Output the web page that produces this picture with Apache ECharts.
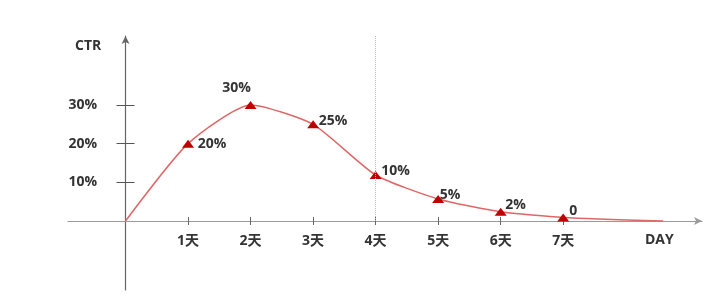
<!DOCTYPE html>
<html><head><meta charset="utf-8">
<script src="https://cdn.jsdelivr.net/npm/echarts@6/dist/echarts.min.js"></script>
<style>html,body{margin:0;padding:0;background:#fff}#c{width:706px;height:297px}</style>
</head><body><div id="c"></div>
<script>
// data
var dayValues = [0, 1, 2, 3, 4, 5, 6, 7, 8.6];
var ctrValues = [0, 20, 30, 25, 11.9, 5.7, 2.4, 0.9, 0];
var pointLabels = ['', '20%', '30%', '25%', '10%', '5%', '2%', '0', ''];
var xTickValues = [1, 2, 3, 4, 5, 6, 7];
var xTickLabels = ['1天', '2天', '3天', '4天', '5天', '6天', '7天'];
var yTickValues = [10, 20, 30];
var yTickLabels = ['10%', '20%', '30%'];
var markDay = 4;

// styles
var labelOffsets = [null, [24, 0], [-14, -17], [20, -3], [20, -4], [12, -4], [15, -7], [10, -7], null];
var FONT = "'Open Sans','Noto Sans CJK SC',sans-serif";

var data = dayValues.map(function (d, i) {
  var item = { value: [d, ctrValues[i]] };
  if (pointLabels[i]) {
    item.label = { show: true, position: 'inside', offset: labelOffsets[i], formatter: pointLabels[i] };
    item.symbol = 'triangle';
  } else {
    item.symbol = 'none';
  }
  return item;
});

var xLabelMap = {}; xTickValues.forEach(function (v, i) { xLabelMap[v] = xTickLabels[i]; });
var yLabelMap = {}; yTickValues.forEach(function (v, i) { yLabelMap[v] = yTickLabels[i]; });

var chart = echarts.init(document.getElementById('c'));
chart.setOption({
  animation: false,
  grid: { left: 68, right: 4, top: 36, bottom: 7, outerBoundsMode: 'none', containLabel: false },
  xAxis: [{
    type: 'value', min: -0.92, max: 9.22,
    axisLine: { onZero: true, lineStyle: { color: '#9a9a9a', width: 1.2 }, symbol: ['none', 'arrow'], symbolSize: [6, 8] },
    axisTick: { show: true, inside: false, length: 4, customValues: xTickValues, lineStyle: { color: '#666' } },
    axisLabel: { customValues: xTickValues, formatter: function (v) { return xLabelMap[v] || ''; },
      margin: -56, fontFamily: FONT, fontWeight: 'bold', fontSize: 14, color: '#333' },
    splitLine: { show: false }
  }, {
    type: 'value', min: -0.92, max: 9.22, position: 'bottom',
    axisLine: { show: false, onZero: true },
    axisTick: { show: true, inside: true, length: 4, customValues: xTickValues, lineStyle: { color: '#666' } },
    axisLabel: { show: false }, splitLine: { show: false }
  }],
  yAxis: [{
    type: 'value', min: -17.84, max: 47.84,
    axisLine: { onZero: true, lineStyle: { color: '#666', width: 1.2 }, symbol: ['none', 'arrow'], symbolSize: [6, 8] },
    axisTick: { show: true, inside: false, length: 9, customValues: yTickValues, lineStyle: { color: '#555' } },
    axisLabel: { customValues: yTickValues, formatter: function (v) { return yLabelMap[v] || ''; },
      margin: -29, fontFamily: FONT, fontWeight: 'bold', fontSize: 14, color: '#333' },
    splitLine: { show: false }
  }, {
    type: 'value', min: -17.84, max: 47.84, position: 'left',
    axisLine: { show: false, onZero: true },
    axisTick: { show: true, inside: true, length: 9, customValues: yTickValues, lineStyle: { color: '#555' } },
    axisLabel: { show: false }, splitLine: { show: false }
  }],
  graphic: [
    { type: 'text', left: 75, top: 39, style: { text: 'CTR', font: "bold 14px " + FONT, fill: '#333' } },
    { type: 'text', left: 645, top: 233, style: { text: 'DAY', font: "bold 14px " + FONT, fill: '#333' } }
  ],
  series: [{
    type: 'line', smooth: 0.2, data: data,
    symbolSize: [12, 8],
    itemStyle: { color: '#c00000' },
    lineStyle: { color: '#e06666', width: 1.5 },
    label: { fontFamily: FONT, fontWeight: 'bold', fontSize: 14, color: '#333' },
    markLine: {
      silent: true, symbol: 'none', label: { show: false },
      lineStyle: { color: '#bbbbbb', type: 'dotted', width: 1 },
      data: [[{ coord: [markDay, 0] }, { coord: [markDay, 47.84] }]]
    }
  }]
});
</script>
</body></html>
